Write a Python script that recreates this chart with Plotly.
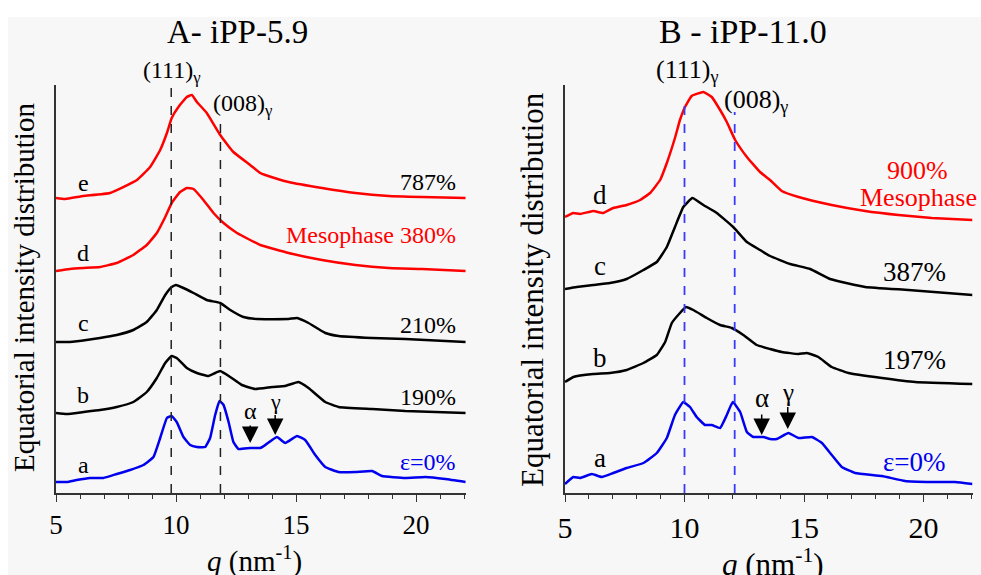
import plotly.graph_objects as go

# ---------------- data (q in nm^-1, stacked intensity in a.u.) ----------------
# Panel A : iPP-5.9
qA_e = [5.0, 5.38, 6.14, 7.25, 8.37, 8.92, 9.34, 9.62, 9.82, 10.10, 10.45, 10.66, 10.87, 11.28, 11.84,
        12.39, 13.09, 13.51, 13.72, 14.69, 16.08, 17.47, 18.86, 20.25, 22.06]
iA_e = [295, 294, 297, 300, 313, 326, 343, 360, 375, 386, 396, 398, 391, 380, 358,
        341, 328, 320, 318, 311, 305, 300, 297, 296, 295]

qA_d = [5.0, 5.58, 6.14, 6.83, 7.53, 8.22, 8.78, 9.20, 9.55, 9.82, 10.17, 10.45, 10.73, 11.14, 11.56,
        11.98, 12.54, 13.09, 13.51, 14.69, 16.08, 17.47, 18.86, 20.25, 22.06]
iA_d = [222, 224, 225, 226, 230, 238, 248, 260, 276, 290, 301, 305, 304, 293, 280,
        270, 260, 253, 248, 240, 233, 228, 225, 224, 222]

qA_c = [5.0, 5.58, 6.83, 7.53, 8.22, 8.78, 9.20, 9.55, 9.82, 10.0, 10.31, 10.73, 11.28, 11.84, 12.26,
        12.81, 13.37, 14.69, 15.04, 15.52, 16.22, 16.77, 18.17, 19.55, 22.06]
iA_c = [151, 151, 155, 158, 163, 171, 183, 198, 206, 208, 205, 200, 193, 190, 183,
        176, 174, 174, 175, 170, 160, 157, 155, 154, 151]

qA_b = [5.0, 5.45, 6.14, 6.83, 7.53, 8.22, 8.78, 9.20, 9.55, 9.82, 10.03, 10.45, 10.87, 11.35, 11.63,
        11.84, 12.26, 12.74, 13.30, 14.00, 14.55, 15.10, 15.52, 16.22, 16.77, 18.17, 19.55, 22.06]
iA_b = [80, 79, 81, 83, 86, 91, 101, 115, 130, 137, 135, 125, 120, 117, 120,
        122, 116, 108, 104, 106, 107, 111, 105, 91, 86, 84, 82, 80]

qA_a = [5.0, 5.45, 5.86, 6.42, 6.97, 7.53, 8.09, 8.64, 9.06, 9.34, 9.62, 9.82, 10.03, 10.31, 10.59,
        10.87, 11.21, 11.42, 11.63, 11.81, 11.98, 12.19, 12.39, 12.60, 13.09, 13.51, 13.72, 14.20, 14.55,
        15.04, 15.38, 15.80, 16.22, 16.77, 17.47, 18.17, 18.58, 19.55, 20.39, 21.22, 22.06]
iA_a = [11, 11, 13, 15, 15, 19, 23, 28, 36, 55, 75, 77, 71, 56, 48,
        46, 46, 55, 78, 92, 88, 71, 51, 44, 45, 45, 48, 56, 50,
        57, 53, 38, 26, 21, 21, 22, 17, 15, 16, 14, 11]

# Panel B : iPP-11.0
qB_d = [5.0, 5.35, 5.63, 6.18, 6.60, 7.02, 7.58, 8.14, 8.56, 8.98, 9.26, 9.60, 9.81, 10.02, 10.30,
        10.79, 11.14, 11.49, 11.77, 12.12, 12.61, 13.16, 13.58, 14.07, 14.77, 16.16, 17.56, 18.95, 20.35, 22.05]
iB_d = [276, 280, 279, 282, 280, 285, 288, 293, 300, 313, 330, 355, 373, 386, 397,
        401, 396, 383, 371, 353, 336, 321, 313, 302, 296, 288, 282, 278, 275, 273]

qB_c = [5.0, 5.49, 6.18, 6.88, 7.58, 8.28, 8.84, 9.26, 9.60, 9.95, 10.33, 10.79, 11.35, 12.04, 12.61,
        13.16, 13.58, 14.42, 15.26, 16.09, 17.56, 19.37, 22.05]
iB_c = [204, 206, 208, 210, 214, 223, 231, 246, 266, 286, 295, 288, 280, 266, 251,
        243, 237, 229, 224, 214, 206, 203, 198]

qB_b = [5.0, 5.35, 6.18, 6.88, 7.58, 8.28, 8.84, 9.19, 9.47, 9.81, 10.06, 10.37, 10.93, 11.49, 11.98,
        12.46, 13.02, 13.58, 14.07, 14.77, 15.12, 15.60, 16.16, 16.86, 18.26, 19.65, 22.05]
iB_b = [111, 116, 119, 120, 123, 130, 138, 151, 170, 180, 186, 183, 175, 168, 165,
        158, 148, 144, 141, 139, 140, 136, 126, 120, 115, 111, 109]

qB_a = [5.0, 5.35, 5.63, 6.12, 6.54, 7.02, 7.58, 8.28, 8.84, 9.26, 9.60, 9.95, 10.23, 10.51, 10.86,
        11.14, 11.49, 11.77, 12.02, 12.33, 12.61, 12.88, 13.30, 13.58, 13.86, 14.35, 14.77, 15.33, 15.75,
        16.16, 16.58, 17.14, 18.26, 19.23, 20.35, 21.32, 22.05]
iB_a = [9, 16, 15, 19, 16, 20, 25, 30, 40, 55, 78, 91, 86, 76, 68,
        68, 65, 78, 91, 81, 61, 56, 56, 54, 54, 60, 55, 56, 50,
        38, 26, 20, 17, 12, 11, 11, 9]

peaksA = [9.8, 11.85]      # (111)γ, (008)γ
peaksB = [10.0, 12.1]
arrowsA = [13.09, 14.13]   # α, γ
arrowsB = [13.23, 14.32]

strainA = ["787%", "Mesophase 380%", "210%", "190%", "ε=0%"]
strainB = ["900%", "Mesophase", "387%", "197%", "ε=0%"]

RED, BLACK, BLUE = "#ff0000", "#000000", "#0000ee"
SERIF = "Liberation Serif, Times New Roman, serif"
W, H = 981, 575

fig = go.Figure()

def add(q, i, color, xa, ya):
    fig.add_trace(go.Scatter(x=q, y=i, mode="lines",
                             line=dict(color=color, width=2.5, shape="spline", smoothing=0.35),
                             xaxis=xa, yaxis=ya, showlegend=False, hoverinfo="skip"))

for q, i, c in [(qA_e, iA_e, RED), (qA_d, iA_d, RED), (qA_c, iA_c, BLACK),
                (qA_b, iA_b, BLACK), (qA_a, iA_a, BLUE)]:
    add(q, i, c, "x", "y")
for q, i, c in [(qB_d, iB_d, RED), (qB_c, iB_c, BLACK), (qB_b, iB_b, BLACK), (qB_a, iB_a, BLUE)]:
    add(q, i, c, "x2", "y2")

axcommon = dict(showgrid=False, zeroline=False, showline=True, linecolor="#333333", linewidth=1.5,
                ticks="outside", ticklen=7, tickwidth=1.3, tickcolor="#333333", dtick=5, tick0=5,
                automargin=False,
                minor=dict(dtick=1, ticks="outside", ticklen=4, tickwidth=1.2, tickcolor="#333333"))
ycommon = dict(showgrid=False, zeroline=False, showline=True, linecolor="#333333", linewidth=1.5,
               showticklabels=False, ticks="", range=[0, 408], automargin=False)

fig.update_layout(
    width=W, height=H, margin=dict(l=0, r=0, t=0, b=0, pad=0, autoexpand=False),
    paper_bgcolor="white", plot_bgcolor="rgba(0,0,0,0)",
    xaxis=dict(domain=[56 / W, 466 / W], range=[5, 22.08], anchor="y",
               tickfont=dict(family=SERIF, size=27, color="black"), **axcommon),
    yaxis=dict(domain=[82 / H, 490 / H], anchor="x", **ycommon),
    xaxis2=dict(domain=[565 / W, 972.5 / W], range=[5, 22.05], anchor="y2",
                tickfont=dict(family=SERIF, size=30, color="black"), **axcommon),
    yaxis2=dict(domain=[82 / H, 490 / H], anchor="x2", **ycommon),
)

shapes = [dict(type="rect", xref="paper", yref="paper", x0=8 / W, x1=1, y0=0, y1=(H - 17) / H,
               fillcolor="#f7f7f7", line=dict(width=0), layer="below")]
for qp, top in zip(peaksA, [408, 370]):
    shapes.append(dict(type="line", xref="x", yref="y", x0=qp, x1=qp, y0=0, y1=top,
                       line=dict(color="#222222", width=1.5, dash="dash")))
for qp, top in zip(peaksB, [393, 381]):
    shapes.append(dict(type="line", xref="x2", yref="y2", x0=qp, x1=qp, y0=0, y1=top,
                       line=dict(color="#3a3aff", width=1.8, dash="dash")))
fig.update_layout(shapes=shapes)

ann = []
def txt(px, py, text, size, color="black", xanchor="center", textangle=0):
    # px, py: position in page pixels from the top-left corner
    ann.append(dict(x=px / W, y=1 - py / H, xref="paper", yref="paper", text=text, showarrow=False,
                    xanchor=xanchor, yanchor="middle", textangle=textangle,
                    font=dict(family=SERIF, size=size, color=color)))

# titles
txt(237, 32, "A- iPP-5.9", 33)
txt(743, 32, "B - iPP-11.0", 34)
# y-axis titles
txt(24, 288, "Equatorial intensity distribution", 29, textangle=-90)
txt(532, 290, "Equatorial intensity distribution", 31, textangle=-90)
# x-axis titles
txt(254, 559, "<i>q</i> (nm<sup>-1</sup>)", 29)
txt(773, 562, "<i>q</i> (nm<sup>-1</sup>)", 31)

# reflection labels
txt(172, 72, "(111)<sub>γ</sub>", 24)
txt(243, 105, "(008)<sub>γ</sub>", 24)
txt(687, 71, "(111)<sub>γ</sub>", 26)
txt(756, 101, "(008)<sub>γ</sub>", 26)

# curve letters
for lab, y in zip(["e", "d", "c", "b", "a"], [183, 253, 323, 395, 465]):
    txt(83, y, lab, 24)
for lab, y in zip(["d", "c", "b", "a"], [195, 266, 358, 458]):
    txt(600, y, lab, 27)

# strain labels
colsA = [BLACK, RED, BLACK, BLACK, BLUE]
for lab, y, c in zip(strainA, [182, 235, 325, 397, 462], colsA):
    txt(458, y, lab, 24, color=c, xanchor="right")
txt(917, 171, strainB[0], 26, color=RED)
txt(918, 197, strainB[1], 26, color=RED)
for lab, y, c in zip(strainB[2:], [272, 360, 462], [BLACK, BLACK, BLUE]):
    txt(948, y, lab, 27, color=c, xanchor="right")

# arrows α, γ (tips in data coordinates)
def arrow(x, tip, ay, lab, xr, yr, size):
    ann.append(dict(x=x, y=tip, xref=xr, yref=yr, text=lab, showarrow=True, arrowhead=2,
                    arrowsize=2.2, arrowwidth=1.5, arrowcolor="black", ax=0, ay=ay, standoff=0,
                    font=dict(family=SERIF, size=size, color="black")))
arrow(arrowsA[0], 50, -32, "α", "x", "y", 24)
arrow(arrowsA[1], 58, -34, "γ", "x", "y", 22)
arrow(arrowsB[0], 58, -37, "α", "x2", "y2", 27)
arrow(arrowsB[1], 64, -37, "γ", "x2", "y2", 25)

fig.update_layout(annotations=ann)
fig.write_html("out.html", config={"displayModeBar": False},
               post_script="document.body.style.margin='0';document.body.style.overflow='hidden';")
